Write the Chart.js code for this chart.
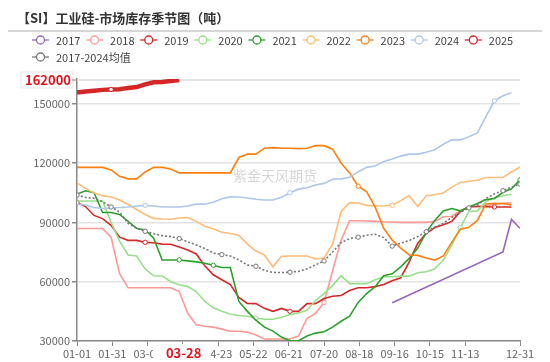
<!DOCTYPE html>
<html>
<head>
<meta charset="utf-8">
<script src="https://cdn.jsdelivr.net/npm/chart.js@4/dist/chart.umd.min.js"></script>
<style>
  html, body { margin: 0; padding: 0; background: #fff; }
</style>
</head>
<body>
<canvas id="seasonChart" width="550" height="362"></canvas>
<script>
// Weekly sample positions (day of year)
const weekDays = [0, 7, 14, 21, 28, 35, 42, 49, 56, 63, 70, 77, 84, 91, 98, 105, 112, 119, 126, 133,
  140, 147, 154, 161, 168, 175, 182, 189, 196, 203, 210, 217, 224, 231, 238, 245, 252, 259, 266, 273,
  280, 287, 294, 301, 308, 315, 322, 329, 336, 343, 350, 357, 364];

// X tick positions (day of year) and their labels
const tickDays = [0, 29, 58, 87, 116, 145, 174, 203, 232, 261, 290, 319, 364];
const tickLabels = ['01-01', '01-31', '03-01', '', '04-23', '05-22', '06-21', '07-20', '08-18', '09-16', '10-15', '11-13', '12-31'];
const yTicks = [30000, 60000, 90000, 120000, 150000];

// Inventory (tonnes) per year, one value per week
const s2017 = [null, null, null, null, null, null, null, null, null, null,
  null, null, null, null, null, null, null, null, null, null,
  null, null, null, null, null, null, null, null, null, null,
  null, null, null, null, null, null, null, 49300, null, null,
  null, null, null, null, null, null, null, null, null, null,
  75000, 91500, 87000];
const s2018 = [86900, 86900, 86900, 86900, 82500, 64000, 56900, 56900, 56900, 56900,
  56900, 56900, 55000, 44000, 38200, 37500, 37000, 36000, 34900, 34900,
  34500, 33000, 31000, 31000, 31000, 31000, 32500, 41500, 44000, 49500,
  65500, 81000, 90800, 90800, 90700, 90500, 90300, 90200, 90000, 90000,
  90000, 90000, 90500, 92800, 93000, 96000, 97700, 98000, 98500, 99000,
  99500, 100000, null];
const s2019 = [100000, 98000, 93500, 91900, 88500, 82500, 80900, 80900, 79900, 79700,
  79000, 78900, 77500, 76000, 74000, 68000, 63500, 61000, 58500, 52000,
  49000, 48900, 46500, 45000, 46500, 45000, 45000, 48900, 48900, 51500,
  52600, 53000, 55500, 56900, 56900, 57500, 58600, 60500, 62000, 70000,
  79500, 84500, 87400, 88800, 90500, 95500, 98000, 98000, 97900, 97800,
  97800, 97800, null];
const s2020 = [100800, 100800, 100800, 100800, 90000, 80500, 73500, 73000, 66500, 63000,
  62900, 60000, 58400, 57500, 55000, 50000, 46800, 45000, 43500, 42900,
  42500, 41600, 41000, 41000, 42000, 43400, 44200, 45500, 50500, 54000,
  58000, 63000, 59000, 59000, 59000, 61000, 62500, 62500, 62800, 62800,
  64500, 65000, 66500, 71000, 78500, 87400, 95500, 95800, 100500, 102500,
  103500, 104200, null];
const s2021 = [104300, 106000, 105000, 95000, 95000, 94000, 90500, 87000, 86200, 82000,
  71000, 71000, 71000, 70500, 70000, 69300, 68300, 67200, 67200, 50000,
  45000, 40500, 37000, 35000, 32000, 30100, 30100, 32500, 34000, 34700,
  37000, 40000, 42500, 49500, 54000, 57500, 63000, 64000, 67500, 71800,
  77000, 85000, 91000, 95800, 97000, 95800, 97700, 99500, 101500, 102100,
  105200, 107000, 111500];
const s2022 = [110000, 107200, 104800, 103500, 102800, 101300, 99000, 96500, 94000, 92000,
  91700, 91600, 92200, 92400, 90500, 88000, 86800, 85000, 84400, 83500,
  79000, 75500, 73500, 67500, 72800, 73000, 73000, 73000, 71500, 72000,
  79000, 95500, 100000, 99800, 98600, 98300, 98300, 98700, 101000, 103500,
  98000, 103500, 104000, 104800, 107800, 110200, 110800, 111300, 112700, 112700,
  112700, 115500, 118000];
const s2023 = [117800, 117800, 117800, 117800, 116500, 113300, 112000, 112000, 115500, 117800,
  117800, 117000, 115000, 115000, 115000, 115000, 115000, 115000, 115000, 122800,
  124500, 124500, 127500, 127800, 127500, 127500, 127300, 127500, 128800, 128800,
  127000, 120000, 115000, 108300, 105500, 97700, 87000, 81000, 77000, 73500,
  73300, 72000, 70900, 73000, 80000, 86500, 87500, 91000, 99300, 99700,
  99500, 98800, null];
const s2024 = [99200, 98800, 97500, 97000, 97300, 97500, 97800, 98300, 98600, 98300,
  97800, 97800, 97800, 98300, 99200, 99200, 100200, 101900, 102900, 102800,
  102300, 101700, 101300, 101300, 102700, 105000, 106800, 107500, 108900, 109700,
  111800, 112000, 112800, 115500, 117800, 118500, 120800, 122000, 123500, 124500,
  124500, 125500, 126700, 129500, 131700, 131700, 133300, 135200, 143500, 151500,
  154000, 155500, null];
const s2025 = [155600, 156200, 156600, 157000, 157200, 157300, 158000, 158400, 159800, 160800,
  161000, 161500, 162000];
const sAvg = [103800, 102600, 102200, 100500, 97800, 95200, 89500, 87000, 85500, 84200,
  83300, 82800, 81800, 80200, 78500, 76800, 74500, 73700, 73000, 71000,
  68500, 67800, 65700, 64700, 64600, 64800, 65200, 66500, 68500, 70500,
  75000, 79700, 81800, 82500, 83500, 84000, 82300, 78000, 79500, 80800,
  82800, 85300, 87600, 89500, 92500, 95000, 97300, 98700, 102000, 104500,
  106000, 107800, 109400];

// Highlighted pointer (date / value)
const pointerDay = 86;
const pointerDate = '03-28';
const pointerValue = 162000;

const seriesDefs = [
  { label: '2017', data: s2017, color: '#9467bd', marks: [], gaps: true },
  { label: '2018', data: s2018, color: '#ff9896', marks: [29] },
  { label: '2019', data: s2019, color: '#d62728', marks: [0, 8, 25, 49] },
  { label: '2020', data: s2020, color: '#98df8a', marks: [21, 45] },
  { label: '2021', data: s2021, color: '#2ca02c', marks: [12, 16, 52] },
  { label: '2022', data: s2022, color: '#ffbb78', marks: [37] },
  { label: '2023', data: s2023, color: '#ff7f0e', marks: [33] },
  { label: '2024', data: s2024, color: '#aec7e8', marks: [8, 25, 49] },
  { label: '2025', data: s2025, color: '#d62728', marks: [4], width: 4.5 },
  { label: '2017-2024均值', data: sAvg, color: '#777777', marks: [0, 4, 8, 12, 17, 21, 25, 29, 33, 37, 41, 46, 50, 52], dash: [2, 2] }
];

const FONT = "'Noto Sans CJK SC', 'Noto Sans', sans-serif";

const datasets = seriesDefs.map((s, i) => ({
  label: s.label,
  data: s.data.map((v, j) => ({ x: weekDays[j], y: v })),
  borderColor: s.color,
  backgroundColor: '#fff',
  borderWidth: s.width || 1.6,
  borderDash: s.dash || [],
  tension: 0,
  spanGaps: !!s.gaps,
  order: seriesDefs.length - i,
  pointRadius: ctx => s.marks.includes(ctx.dataIndex) ? 2.2 : 0,
  pointBorderWidth: 1,
  pointBackgroundColor: '#fff',
  pointBorderColor: s.color,
  pointHoverRadius: 0
}));

// Title, legend, watermark and the pointer labels
const decorPlugin = {
  id: 'decor',
  beforeDatasetsDraw(chart) {
    const c = chart.ctx;
    c.save();
    c.font = '14px ' + FONT;
    c.fillStyle = 'rgba(0,0,0,0.17)';
    c.textAlign = 'center';
    c.textBaseline = 'middle';
    c.fillText('紫金天风期货', 275, 176);
    // pointer line
    const y = chart.scales.y.getPixelForValue(pointerValue);
    c.strokeStyle = '#dcdcdc';
    c.lineWidth = 1.5;
    c.beginPath();
    c.moveTo(chart.chartArea.left, y);
    c.lineTo(chart.chartArea.right, y);
    c.stroke();
    c.restore();
  },
  afterDraw(chart) {
    const c = chart.ctx;
    c.save();
    // title
    c.font = 'bold 13px ' + FONT;
    c.fillStyle = '#333';
    c.textAlign = 'left';
    c.textBaseline = 'middle';
    c.fillText('【SI】工业硅-市场库存季节图（吨）', 17, 18);
    c.strokeStyle = '#d6d6d6';
    c.lineWidth = 2;
    c.beginPath();
    c.moveTo(8, 31);
    c.lineTo(542, 31);
    c.stroke();

    // legend
    c.font = '11px ' + FONT;
    chart.data.datasets.forEach((ds, i) => {
      const row = i < 9 ? 0 : 1;
      const x = 32 + (row === 0 ? i * 54.1 : 0);
      const y = row === 0 ? 40 : 57;
      c.strokeStyle = ds.borderColor;
      c.lineWidth = 1.3;
      c.beginPath();
      c.moveTo(x, y);
      c.lineTo(x + 17, y);
      c.stroke();
      c.beginPath();
      c.arc(x + 8.5, y, 4, 0, Math.PI * 2);
      c.fillStyle = '#fff';
      c.fill();
      c.stroke();
      c.fillStyle = '#444';
      c.textAlign = 'left';
      c.fillText(ds.label, x + 24, y + 0.5);
    });

    // y pointer label
    const ys = chart.scales.y;
    const py = ys.getPixelForValue(pointerValue);
    const left = chart.chartArea.left;
    c.font = 'bold 13px ' + FONT;
    const yw = c.measureText(String(pointerValue)).width;
    c.fillStyle = '#fff';
    c.strokeStyle = '#e6e6e6';
    c.lineWidth = 1;
    c.fillRect(left - yw - 10, py - 8, yw + 6, 16);
    c.strokeRect(left - yw - 10, py - 8, yw + 6, 16);
    c.strokeStyle = '#888';
    c.beginPath();
    c.moveTo(left - 5, py);
    c.lineTo(left, py);
    c.stroke();
    c.fillStyle = '#e0141e';
    c.textAlign = 'right';
    c.fillText(String(pointerValue), left - 6, py + 0.5);

    // x pointer label
    const px = chart.scales.x.getPixelForValue(pointerDay);
    const bottom = chart.chartArea.bottom;
    const xw = c.measureText(pointerDate).width;
    c.fillStyle = '#fff';
    c.fillRect(px - xw / 2 - 11, bottom + 3, xw + 22, 17);
    c.fillStyle = '#e0141e';
    c.textAlign = 'center';
    c.fillText(pointerDate, px + 2, bottom + 12);
    c.restore();
  }
};

new Chart(document.getElementById('seasonChart'), {
  type: 'line',
  data: { datasets },
  options: {
    responsive: false,
    animation: false,
    layout: { padding: { top: 79, right: 30, left: 0, bottom: 0 } },
    plugins: {
      legend: { display: false },
      tooltip: { enabled: false }
    },
    scales: {
      x: {
        type: 'linear',
        min: 0,
        max: 364,
        afterBuildTicks: scale => { scale.ticks = tickDays.map(v => ({ value: v })); },
        afterFit: scale => { scale.height = 21; },
        ticks: {
          autoSkip: false,
          maxRotation: 0,
          color: '#666',
          font: { size: 11, family: FONT },
          padding: 1,
          callback: v => tickLabels[tickDays.indexOf(v)]
        },
        grid: { drawOnChartArea: false, drawTicks: true, tickLength: 5, tickColor: '#888' },
        border: { color: '#888', width: 1.5 }
      },
      y: {
        min: 30000,
        max: 162500,
        afterBuildTicks: scale => { scale.ticks = yTicks.map(v => ({ value: v })); },
        afterFit: scale => { scale.width = 77; },
        ticks: {
          color: '#666',
          font: { size: 11, family: FONT },
          padding: 2,
          callback: v => String(v)
        },
        grid: { color: '#e3e3e3', lineWidth: 1.5, tickLength: 5, tickColor: '#888' },
        border: { color: '#888', width: 1.5 }
      }
    }
  },
  plugins: [decorPlugin]
});
</script>
</body>
</html>
